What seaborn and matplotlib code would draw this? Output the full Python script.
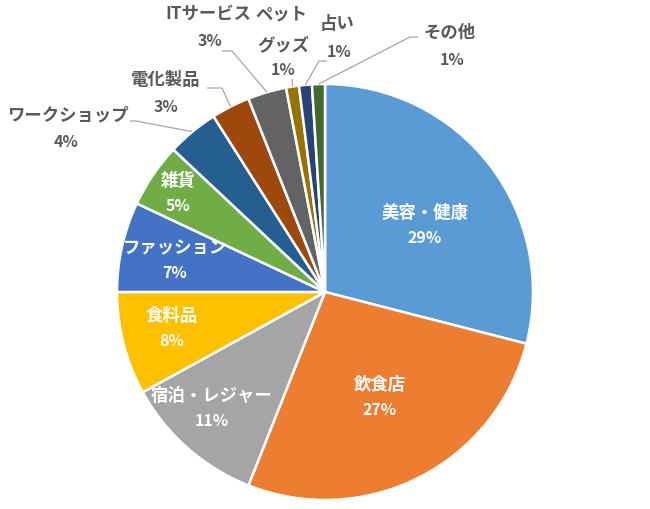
import numpy as np
import matplotlib
matplotlib.use("Agg")
import matplotlib.pyplot as plt
import seaborn as sns

sns.set_style("white")
plt.rcParams['font.family'] = ['Noto Sans CJK JP', 'DejaVu Sans']

categories = ["美容・健康", "飲食店", "宿泊・レジャー", "食料品", "ファッション", "雑貨",
              "ワークショップ", "電化製品", "ITサービス", "ペット\nグッズ", "占い", "その他"]
values = [29, 27, 11, 8, 7, 5, 4, 3, 3, 1, 1, 1]
pct_labels = ["29%", "27%", "11%", "8%", "7%", "5%", "4%", "3%", "3%", "1%", "1%", "1%"]
colors = ["#5B9BD5", "#ED7D31", "#A5A5A5", "#FFC000", "#4472C4", "#70AD47",
          "#255E91", "#9E480E", "#636363", "#997300", "#264478", "#43682B"]

W, H = 650, 510
CX, CY, R = 325, 293, 208
FS_NAME, FS_PCT = 12.5, 11.5

def px(x, y):
    return ((x - CX) / R, (CY - y) / R)

fig = plt.figure(figsize=(6.5, 5.1), dpi=100)
ax = fig.add_axes([0, 0, 1, 1])
wedges, _ = ax.pie(values, colors=colors, startangle=90, counterclock=False,
                   radius=1, wedgeprops=dict(edgecolor="white", linewidth=1.8))
ax.set_xlim(-CX / R, (W - CX) / R)
ax.set_ylim((CY - H) / R, CY / R)
ax.set_aspect("equal")
ax.axis("off")

inside_pos = {0: (425, 213), 1: (380, 385), 2: (212, 396), 3: (172, 316),
              4: (175, 248), 5: (178, 181)}
for i, (x, y) in inside_pos.items():
    ax.text(*px(x, y), categories[i], ha="center", va="center", color="white",
            fontsize=FS_NAME, fontweight="bold")
    ax.text(*px(x, y + 25), pct_labels[i], ha="center", va="center", color="white",
            fontsize=FS_PCT, fontweight="bold")

gray = "#595959"
outside = {
    6: ((68, 115), (66, 142)),
    7: ((166, 80), (166, 107)),
    8: ((208, 14), (210, 41)),
    10: ((337, 24), (339, 52)),
    11: ((450, 33), (452, 60)),
}
for i, (npos, ppos) in outside.items():
    ax.text(*px(*npos), categories[i], ha="center", va="center", color=gray,
            fontsize=FS_NAME, fontweight="bold")
    ax.text(*px(*ppos), pct_labels[i], ha="center", va="center", color=gray,
            fontsize=FS_PCT, fontweight="bold")

pet = categories[9].split("\n")
ax.text(*px(281, 14), pet[0], ha="center", va="center", color=gray, fontsize=FS_NAME, fontweight="bold")
ax.text(*px(283, 45), pet[1], ha="center", va="center", color=gray, fontsize=FS_NAME, fontweight="bold")
ax.text(*px(283, 70), pct_labels[9], ha="center", va="center", color=gray, fontsize=FS_PCT, fontweight="bold")

knees = {6: ((130, 122), (136, 122)), 7: ((207, 89), (222, 89)), 8: ((222, 52), (232, 52)),
         9: ((292, 80), (292, 80)), 10: ((327, 62), (319, 62)), 11: ((418, 38), (410, 38))}
for i, (p0, p1) in knees.items():
    w = wedges[i]
    ang = np.deg2rad((w.theta1 + w.theta2) / 2)
    ex, ey = np.cos(ang), np.sin(ang)
    xs = [px(*p0)[0], px(*p1)[0], ex]
    ys = [px(*p0)[1], px(*p1)[1], ey]
    ax.plot(xs, ys, color="#A6A6A6", linewidth=0.9, solid_capstyle="butt")

fig.savefig("out.png", dpi=100, facecolor="white")
